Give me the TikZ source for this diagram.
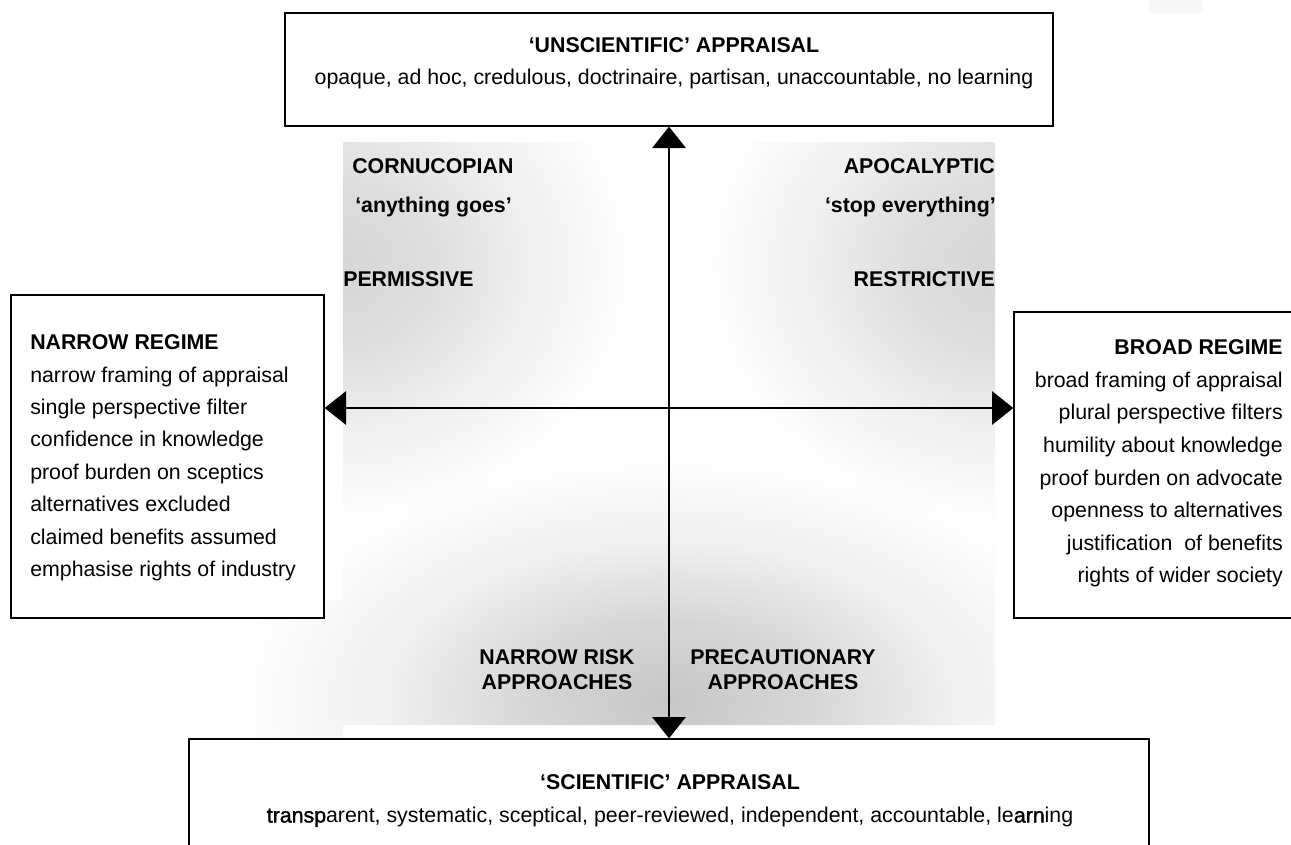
\documentclass[tikz,border=0pt]{standalone}
\usepackage{fontspec}
\setmainfont{Liberation Sans}
\newfontfamily\fbold[FakeBold=1.6]{Liberation Sans}
\usetikzlibrary{arrows.meta}
\pgfdeclareradialshading{cornershade}{\pgfpoint{0bp}{0bp}}{color(0bp)=(black!16); color(8bp)=(black!13); color(16bp)=(black!6); color(25bp)=(white); color(50bp)=(white)}
\pgfdeclareradialshading{bottomshade}{\pgfpoint{0bp}{0bp}}{color(0bp)=(black!22); color(8bp)=(black!16); color(16bp)=(black!6); color(25bp)=(white); color(50bp)=(white)}
\begin{document}
\begin{tikzpicture}[x=0.75pt,y=-0.75pt,
  every node/.style={inner sep=0pt, font=\fontsize{16pt}{19pt}\selectfont},
  box/.style={draw=black, line width=1pt, fill=white},
  lbl/.style={font=\fontsize{16pt}{19pt}\selectfont\bfseries},
  arr/.style={line width=1.5pt, {Triangle[width=25pt,length=16pt]}-{Triangle[width=25pt,length=16pt]}}]
\useasboundingbox (0,0) rectangle (1291,844);
% shaded background
\begin{scope}
  \clip (343,142) rectangle (995,725) (200,600) rectangle (343,739);
  \shade[shading=cornershade, blend mode=multiply] (335,265) ellipse [x radius=228pt, y radius=195pt];
  \shade[shading=cornershade, blend mode=multiply] (1003,265) ellipse [x radius=228pt, y radius=195pt];
  \shade[shading=bottomshade, blend mode=multiply] (669,700) ellipse [x radius=330pt, y radius=185pt];
\end{scope}
\fill[black!3] (1149,0) rectangle (1202,13);
% boxes
\node[box, minimum width=576pt, minimum height=84.75pt] (top) at (669,69.5) {};
\node[box, minimum width=234.75pt, minimum height=242.25pt] (lbox) at (167.5,456.5) {};
\node[box, minimum width=214.5pt, minimum height=229.5pt] (rbox) at (1157,465) {};
\node[box, minimum width=720pt, minimum height=98.25pt] (bot) at (669,804.5) {};
% arrows
\coordinate (hy) at (0,408);
\draw[arr] (top.south) -- (bot.north);
\draw[arr] (lbox.east |- hy) -- (rbox.west |- hy);
% top box text
\node[lbl, anchor=base] (ttitle) at (674,52.6) {‘UNSCIENTIFIC’ APPRAISAL};
\node[anchor=base] (ttext) at (674,84) {opaque, ad hoc, credulous, doctrinaire, partisan, unaccountable, no learning};
% bottom box text
\node[lbl, anchor=base] (btitle) at (670,789.6) {‘SCIENTIFIC’ APPRAISAL};
\node[anchor=base] (btext) at (670,822.5) {{\fbold transp}arent, systematic, sceptical, peer-reviewed, independent, accountable, le{\fbold arn}ing};
% left box text
\node[lbl, anchor=base west] (ltitle) at (30,349.6) {NARROW REGIME};
\foreach \t [count=\i] in {narrow framing of appraisal, single perspective filter, confidence in knowledge, proof burden on sceptics, alternatives excluded, claimed benefits assumed, emphasise rights of industry}
  \node[anchor=base west] (l\i) at (30,349.6+32.4*\i) {\t};
% right box text
\node[lbl, anchor=base east] (rtitle) at (1283,354.6) {BROAD REGIME};
\foreach \t [count=\i] in {broad framing of appraisal, plural perspective filters, humility about knowledge, proof burden on advocate, openness to alternatives, justification\ \ of benefits, rights of wider society}
  \node[anchor=base east] (r\i) at (1283,354.6+32.6*\i) {\t};
% quadrant labels
\node[lbl, anchor=base west] (corn) at (352,173) {CORNUCOPIAN};
\node[lbl, anchor=base west] (anyg) at (355,212) {‘anything goes’};
\node[lbl, anchor=base west] (perm) at (343,286) {PERMISSIVE};
\node[lbl, anchor=base east] (apoc) at (995,173) {APOCALYPTIC};
\node[lbl, anchor=base east] (stop) at (996,212) {‘stop everything’};
\node[lbl, anchor=base east] (restr) at (995,286) {RESTRICTIVE};
\node[lbl, anchor=base] (nr1) at (557,664.6) {NARROW RISK};
\node[lbl, anchor=base] (nr2) at (557,689.6) {APPROACHES};
\node[lbl, anchor=base] (pa1) at (783,664.6) {PRECAUTIONARY};
\node[lbl, anchor=base] (pa2) at (783,689.6) {APPROACHES};
\end{tikzpicture}
\end{document}
